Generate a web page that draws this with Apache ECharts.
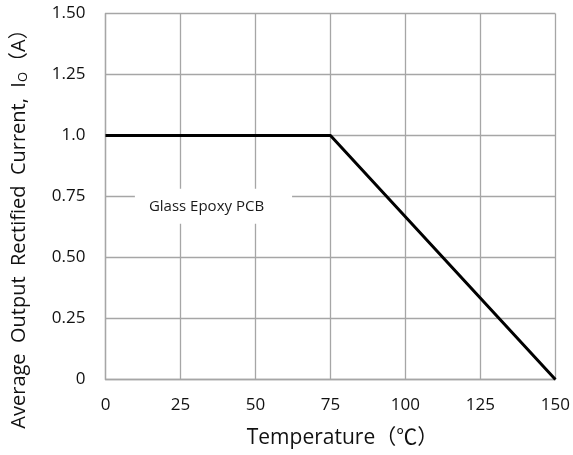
<!DOCTYPE html>
<html>
<head>
<meta charset="utf-8">
<script src="https://cdn.jsdelivr.net/npm/echarts@6/dist/echarts.min.js"></script>
<style>html,body{margin:0;padding:0;background:#fff;}#c{width:573px;height:455px;}</style>
</head>
<body>
<div id="c"></div>
<script>
var temperature = [0, 75, 150];
var current = [1.0, 1.0, 0];
var yTickLabels = ['0', '0.25', '0.50', '0.75', '1.0', '1.25', '1.50'];
var xTickLabels = ['0', '25', '50', '75', '100', '125', '150'];
var noteText = 'Glass Epoxy PCB';
var notePos = [36, 0.71];
var xTitle = 'Temperature（℃）';
var yTitle = ['Average  Output  Rectified  Current,  I', 'O', '（A）'];

var FONT = '"Open Sans","Noto Sans CJK SC",sans-serif';
var chart = echarts.init(document.getElementById('c'));
var data = temperature.map(function (t, i) { return [t, current[i]]; });
chart.setOption({
  animation: false,
  backgroundColor: '#fff',
  grid: { left: 105.5, right: 13.5, top: 13.5, bottom: 75.5 },
  xAxis: {
    type: 'value', min: 0, max: 150, interval: 25,
    name: xTitle, nameLocation: 'middle', nameGap: 48,
    nameTextStyle: { fontSize: 21, color: '#111', fontFamily: FONT, padding: [0, 0, 0, 24] },
    axisLine: { show: true, lineStyle: { color: '#a6a6a6', width: 1.3 } },
    axisTick: { show: false },
    axisLabel: { fontSize: 17, color: '#111', margin: 17, fontFamily: FONT,
      formatter: function (v) { return xTickLabels[Math.round(v / 25)]; } },
    splitLine: { show: true, lineStyle: { color: '#a6a6a6', width: 1.3 } }
  },
  yAxis: {
    type: 'value', min: 0, max: 1.5, interval: 0.25,
    axisLine: { show: true, lineStyle: { color: '#a6a6a6', width: 1.3 } },
    axisTick: { show: false },
    axisLabel: { fontSize: 17, color: '#111', margin: 20, fontFamily: FONT,
      formatter: function (v) { return yTickLabels[Math.round(v / 0.25)]; } },
    splitLine: { show: true, lineStyle: { color: '#a6a6a6', width: 1.3 } }
  },
  series: [{
    type: 'line', data: data, symbol: 'none', z: 5,
    lineStyle: { color: '#000', width: 3 }
  }]
});
var p = chart.convertToPixel({ gridIndex: 0 }, notePos);
chart.setOption({
  graphic: [
    {
      type: 'text', x: p[0], y: p[1], z: 10,
      style: {
        text: noteText, fill: '#1a1a1a', fontSize: 15, fontFamily: FONT,
        align: 'center', verticalAlign: 'middle',
        backgroundColor: '#fff', padding: [10, 28, 10, 14]
      }
    },
    {
      type: 'text', x: 19, y: 224, rotation: Math.PI / 2, z: 10,
      style: {
        text: '{a|' + yTitle[0] + '}{s|' + yTitle[1] + '}{a|' + yTitle[2] + '}',
        align: 'center', verticalAlign: 'middle',
        rich: {
          a: { fontSize: 20, fill: '#111', fontFamily: FONT },
          s: { fontSize: 13, fill: '#111', fontFamily: FONT, verticalAlign: 'bottom', padding: [8, 0, 0, 0] }
        }
      }
    }
  ]
});
</script>
</body>
</html>
